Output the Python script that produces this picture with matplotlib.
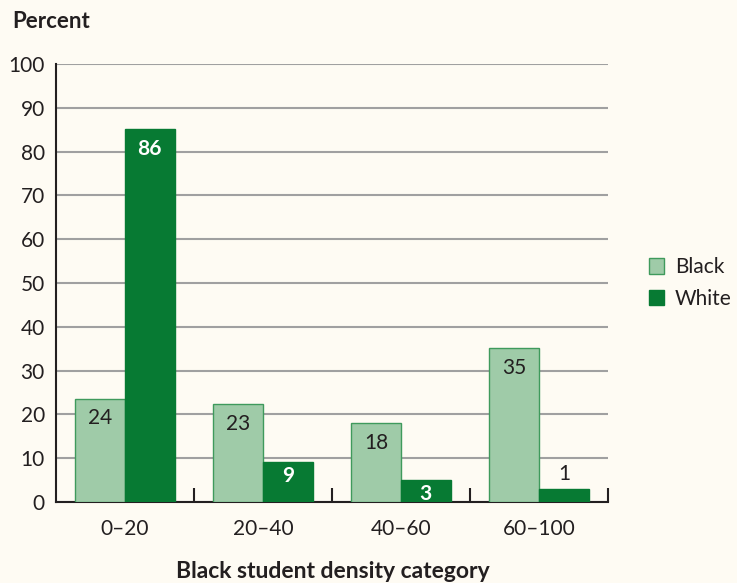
import numpy as np
import matplotlib.pyplot as plt

# data (bar heights as drawn, labels as printed)
categories = ['0\u201320', '20\u201340', '40\u201360', '60\u2013100']
black_vals = [23.6, 22.3, 18.0, 35.1]
white_vals = [85.2, 9.1, 5.0, 3.0]
black_labels = ['24', '23', '18', '35']
white_labels = ['86', '9', '3', '1']

bg = '#fefbf3'
light_green = '#9fcba8'
light_edge = '#3f9a5c'
dark_green = '#077a33'
text_col = '#231f20'

plt.rcParams['font.family'] = ['Lato', 'DejaVu Sans']

fig = plt.figure(figsize=(7.37, 5.83), dpi=100, facecolor=bg)
ax = fig.add_axes([0.076, 0.139, 0.749, 0.751], facecolor=bg)

x = np.arange(len(categories))
w = 0.36
b1 = ax.bar(x - w / 2, black_vals, w, color=light_green, edgecolor=light_edge, linewidth=1, label='Black', zorder=3)
b2 = ax.bar(x + w / 2, white_vals, w, color=dark_green, edgecolor=dark_green, linewidth=1, label='White', zorder=3)

for rect, lab in zip(b1, black_labels):
    ax.text(rect.get_x() + rect.get_width() / 2, rect.get_height() - 2.2, lab,
            ha='center', va='top', fontsize=15, color=text_col, zorder=4)
for rect, lab in zip(b2, white_labels):
    h = rect.get_height()
    cx = rect.get_x() + rect.get_width() / 2
    if h > 4:
        ax.text(cx, h - 1.0 if h < 10 else h - 2.2, lab, ha='center', va='top', fontsize=15,
                color='white', fontweight='bold', zorder=4)
    else:
        ax.text(cx, h + 1.0, lab, ha='center', va='bottom', fontsize=15, color=text_col, zorder=4)

ax.set_xlim(-0.5, 3.5)
ax.set_ylim(0, 100)
ax.set_yticks(np.arange(0, 101, 10))
ax.yaxis.grid(True, color='#a0a0a0', linewidth=1.5, zorder=0)
ax.set_axisbelow(True)
ax.set_xticks(x)
ax.set_xticklabels(categories, fontsize=15, color=text_col)
ax.tick_params(axis='x', which='major', length=0, pad=12)
ax.set_xticks([0.5, 1.5, 2.5, 3.5], minor=True)
ax.tick_params(axis='x', which='minor', direction='in', length=10, width=1.5, color=text_col)
ax.tick_params(axis='y', length=0, labelsize=15, labelcolor=text_col, pad=8)

for s in ['top', 'right']:
    ax.spines[s].set_visible(False)
for s in ['left', 'bottom']:
    ax.spines[s].set_linewidth(1.5)
    ax.spines[s].set_color(text_col)

fig.text(12 / 737, 1 - 22 / 583, 'Percent', fontsize=16, fontweight='bold', color=text_col, va='center')
fig.text(333 / 737, 1 - 582 / 583, 'Black student density category', fontsize=16.5,
         fontweight='bold', color=text_col, ha='center', va='bottom')

ax.legend(loc='center left', bbox_to_anchor=(1.04, 0.5), frameon=False, fontsize=15,
          handlelength=0.75, handleheight=0.75, handletextpad=0.5, labelspacing=0.55,
          labelcolor=text_col)

fig.savefig('out.png', dpi=100, facecolor=bg)
